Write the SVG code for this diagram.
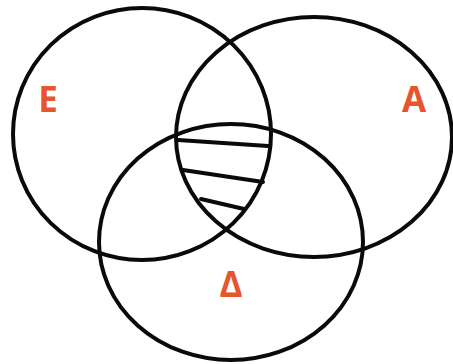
<svg xmlns="http://www.w3.org/2000/svg" width="453" height="364" viewBox="0 0 453 364">
<style>
.c{fill:none;stroke:#0a0a0a;stroke-width:4}
.h{fill:none;stroke:#0a0a0a;stroke-width:4;stroke-linecap:round}
.l{font-family:"Open Sans","DejaVu Sans",sans-serif;font-weight:bold;font-size:35px;fill:#E8552D;text-anchor:middle}
</style>
<rect width="453" height="364" fill="#fff"/>
<g id="E"><ellipse class="c" cx="142" cy="134" rx="129" ry="126"/><text class="l" x="48" y="112">E</text></g>
<g id="A"><ellipse class="c" cx="314" cy="137" rx="138" ry="120"/><text class="l" x="414" y="112">A</text></g>
<g id="D"><ellipse class="c" cx="231" cy="242" rx="132" ry="118"/><text class="l" x="231" y="297">Δ</text></g>
<g id="hatch">
<path class="h" d="M178 140 L268 146"/>
<path class="h" d="M183 170 L263 182"/>
<path class="h" d="M201 199 L244 209"/>
</g>
</svg>
